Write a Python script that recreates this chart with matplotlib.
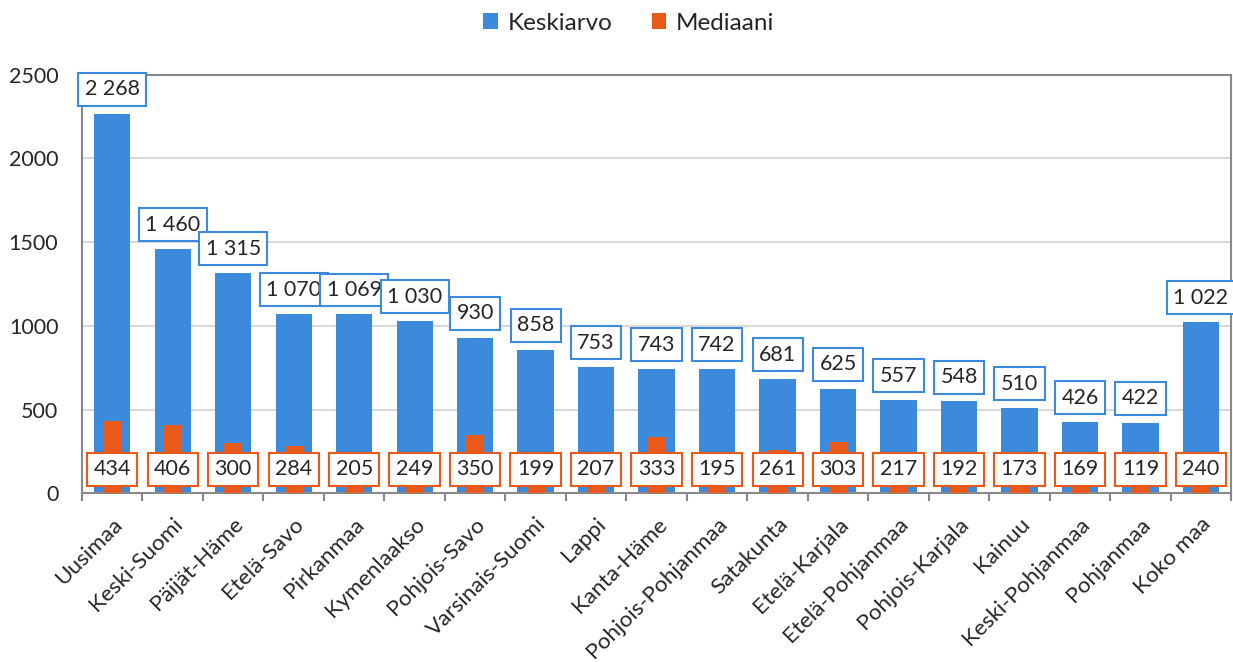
import matplotlib
matplotlib.use("Agg")
import matplotlib.pyplot as plt
import numpy as np

plt.rcParams['font.family'] = ['Lato', 'DejaVu Sans']

# data
regions = ['Uusimaa', 'Keski-Suomi', 'Päijät-Häme', 'Etelä-Savo', 'Pirkanmaa',
           'Kymenlaakso', 'Pohjois-Savo', 'Varsinais-Suomi', 'Lappi', 'Kanta-Häme',
           'Pohjois-Pohjanmaa', 'Satakunta', 'Etelä-Karjala', 'Etelä-Pohjanmaa',
           'Pohjois-Karjala', 'Kainuu', 'Keski-Pohjanmaa', 'Pohjanmaa', 'Koko maa']
keskiarvo = [2268, 1460, 1315, 1070, 1069, 1030, 930, 858, 753, 743,
             742, 681, 625, 557, 548, 510, 426, 422, 1022]
mediaani = [434, 406, 300, 284, 205, 249, 350, 199, 207, 333,
            195, 261, 303, 217, 192, 173, 169, 119, 240]

blue = '#3B8ADB'
orange = '#E95A1A'
txt = '#262626'

def fmt(v):
    return f"{v:,}".replace(",", " ")

fig = plt.figure(figsize=(12.33, 6.62), dpi=100)
ax = fig.add_axes([0.0665, 0.255, 0.932, 0.632])

x = np.arange(len(regions))
ax.bar(x, keskiarvo, width=0.6, color=blue, zorder=2, label='Keskiarvo')
ax.bar(x, mediaani, width=0.3, color=orange, zorder=3, label='Mediaani')

for xi, v in zip(x, keskiarvo):
    ax.annotate(fmt(v), (xi, v), xytext=(0, 17.5), textcoords='offset points',
                ha='center', va='center', fontsize=15.5, color=txt, zorder=5,
                annotation_clip=False,
                bbox=dict(boxstyle='square,pad=0.3', fc='white', ec=blue, lw=1.5))

for xi, v in zip(x, mediaani):
    ax.text(xi, 143, fmt(v), ha='center', va='center', fontsize=15.5, color=txt,
            zorder=6,
            bbox=dict(boxstyle='square,pad=0.3', fc='white', ec=orange, lw=1.5))

ax.set_xlim(-0.5, len(regions) - 0.5)
ax.set_ylim(0, 2500)
ax.set_yticks([0, 500, 1000, 1500, 2000, 2500])
ax.yaxis.grid(True, color='#d9d9d9', lw=1.5, zorder=0)
ax.set_axisbelow(True)

ax.set_xticks(x)
ax.set_xticklabels(regions, rotation=45, ha='right', rotation_mode='anchor',
                   fontsize=16.2, color=txt)
ax.set_xticks(np.arange(len(regions) + 1) - 0.5, minor=True)
ax.tick_params(axis='x', which='major', length=0, pad=15)
ax.tick_params(axis='x', which='minor', length=6, width=1.5, color='#898989')
ax.tick_params(axis='y', length=0, pad=17, labelsize=15.5, labelcolor=txt)

for s in ax.spines.values():
    s.set_color('#898989')
    s.set_linewidth(1.5)

fig.legend(loc='center', bbox_to_anchor=(0.51, 0.965), ncol=2, frameon=False,
           fontsize=17.5, handlelength=0.6, handleheight=0.6, columnspacing=1.6,
           handletextpad=0.4, labelcolor=txt)

fig.savefig('out.png', dpi=100)
